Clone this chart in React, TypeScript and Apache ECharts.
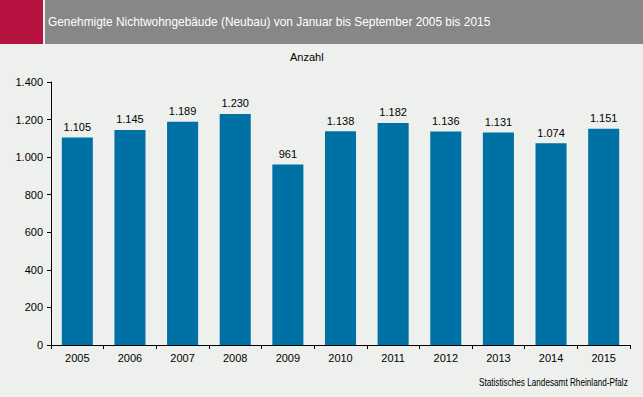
import React, { useEffect, useRef } from "react";
import * as echarts from "echarts";

const categories = ["2005", "2006", "2007", "2008", "2009", "2010", "2011", "2012", "2013", "2014", "2015"];
const values = [1105, 1145, 1189, 1230, 961, 1138, 1182, 1136, 1131, 1074, 1151];
const titleText = "Genehmigte Nichtwohngebäude (Neubau) von Januar bis September 2005 bis 2015";
const unitText = "Anzahl";
const sourceText = "Statistisches Landesamt Rheinland-Pfalz";

const fmt = (v: number) => String(Math.round(v)).replace(/\B(?=(\d{3})+(?!\d))/g, ".");

export default function App() {
  const ref = useRef<HTMLDivElement>(null);
  useEffect(() => {
    if (!ref.current) return;
    const chart = echarts.init(ref.current, undefined, { renderer: "svg" });
    const font = "Liberation Sans, Arial, sans-serif";
    chart.setOption({
      animation: false,
      backgroundColor: "#EEF0EE",
      textStyle: { fontFamily: font },
      graphic: [
        { type: "rect", left: 0, top: 0, shape: { width: 43, height: 44 }, style: { fill: "#B5123F" } },
        { type: "rect", left: 45, top: 0, shape: { width: 598, height: 44 }, style: { fill: "#878787" } },
        { type: "text", x: 48, y: 15, scaleX: 0.915, style: { text: titleText, fill: "#ffffff", font: "13px " + font } },
        { type: "text", left: 290, top: 51, style: { text: unitText, fill: "#000000", font: "11px " + font } },
        { type: "text", x: 479, y: 378, scaleX: 0.82, style: { text: sourceText, fill: "#000000", font: "10px " + font } },
      ],
      grid: { left: 51, right: 13, top: 82, bottom: 52, containLabel: false },
      xAxis: {
        type: "category",
        data: categories,
        axisLine: { lineStyle: { color: "#000", width: 1 } },
        axisTick: { show: true, alignWithLabel: false, length: 4, lineStyle: { color: "#000" } },
        axisLabel: { color: "#000", fontSize: 11, margin: 7, fontFamily: font },
      },
      yAxis: {
        type: "value",
        min: 0,
        max: 1400,
        interval: 200,
        axisLine: { show: true, lineStyle: { color: "#000", width: 1 } },
        axisTick: { show: true, length: 4, lineStyle: { color: "#000" } },
        splitLine: { show: false },
        axisLabel: { color: "#000", fontSize: 11, margin: 8, fontFamily: font, formatter: (v: number) => fmt(v) },
      },
      series: [
        {
          type: "bar",
          data: values,
          barWidth: "59%",
          itemStyle: { color: "#0071A4" },
          label: {
            show: true,
            position: "top",
            distance: 5,
            color: "#000",
            fontSize: 11,
            fontFamily: font,
            formatter: (p: any) => fmt(p.value),
          },
        },
      ],
    });
    return () => chart.dispose();
  }, []);
  return <div ref={ref} style={{ width: 643, height: 397, position: "absolute", left: 0, top: 0 }} />;
}
